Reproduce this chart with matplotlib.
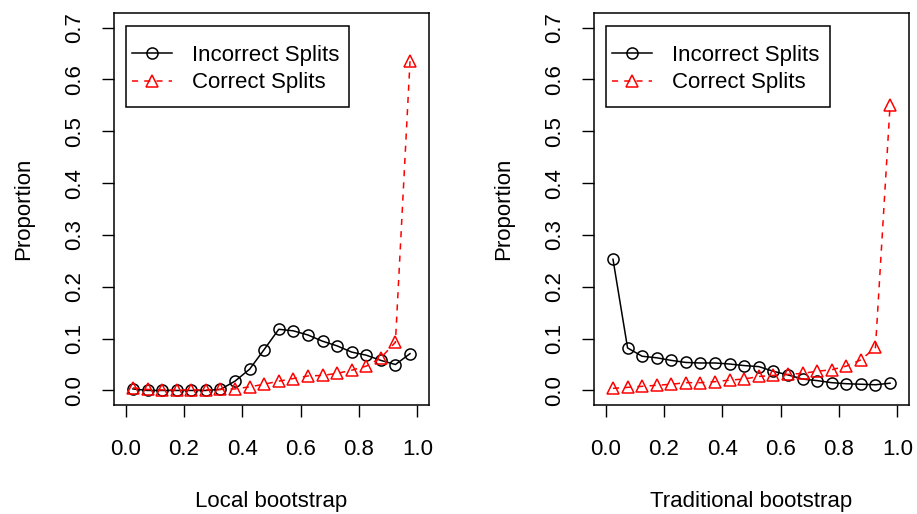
import matplotlib
matplotlib.use("Agg")
import matplotlib.pyplot as plt
from matplotlib.patches import Rectangle
import numpy as np

plt.rcParams['font.family'] = ['Liberation Sans', 'DejaVu Sans']
plt.rcParams['font.size'] = 16

# bin midpoints
x = np.arange(0.025, 1.0, 0.05)

# local bootstrap
local_incorrect = [0.003, 0.0, 0.0, 0.0, 0.0, 0.0, 0.002, 0.018, 0.041, 0.079,
                   0.118, 0.115, 0.107, 0.095, 0.086, 0.074, 0.068, 0.058, 0.050, 0.071]
local_correct = [0.005, 0.002, 0.001, 0.001, 0.001, 0.001, 0.002, 0.003, 0.007, 0.012,
                 0.018, 0.023, 0.028, 0.029, 0.033, 0.039, 0.047, 0.063, 0.093, 0.635]

# traditional bootstrap
trad_incorrect = [0.253, 0.082, 0.066, 0.063, 0.058, 0.054, 0.053, 0.053, 0.051, 0.048,
                  0.046, 0.037, 0.030, 0.022, 0.019, 0.015, 0.013, 0.012, 0.011, 0.014]
trad_correct = [0.004, 0.006, 0.008, 0.010, 0.012, 0.015, 0.015, 0.017, 0.020, 0.022,
                0.027, 0.029, 0.031, 0.033, 0.037, 0.040, 0.047, 0.059, 0.083, 0.550]

xlabels = ["Local bootstrap", "Traditional bootstrap"]

fig = plt.figure(figsize=(9.17, 5.14), dpi=100)
ax1 = fig.add_axes([0.1243, 0.2121, 0.3435, 0.7626])
ax2 = fig.add_axes([0.6478, 0.2121, 0.3435, 0.7626])

panels = [(ax1, local_incorrect, local_correct, xlabels[0]),
          (ax2, trad_incorrect, trad_correct, xlabels[1])]

for ax, inc, cor, lab in panels:
    ax.plot(x, inc, color='black', lw=1.1, marker='o', ms=8, mfc='none',
            mec='black', mew=1.1, label='Incorrect Splits')
    ax.plot(x, cor, color='red', lw=1.1, ls=(0, (4, 4)), marker='^', ms=9,
            mfc='none', mec='red', mew=1.1, label='Correct Splits')
    ax.set_xlim(-0.04, 1.04)
    ax.set_ylim(-0.028, 0.728)
    ax.set_xticks(np.arange(0, 1.01, 0.2))
    ax.set_xticklabels(['0.0', '0.2', '0.4', '0.6', '0.8', '1.0'])
    ax.set_yticks(np.arange(0, 0.71, 0.1))
    ax.set_yticklabels(['%.1f' % v for v in np.arange(0, 0.71, 0.1)],
                       rotation=90, va='center')
    ax.tick_params(length=8.6, width=1, labelsize=16)
    ax.tick_params(axis='x', pad=16)
    ax.tick_params(axis='y', pad=12)
    for s in ax.spines.values():
        s.set_linewidth(1.1)
    ax.set_xlabel(lab, labelpad=22)
    ax.set_ylabel('Proportion', labelpad=22)

    # legend box drawn separately (R style padding)
    ax.add_patch(Rectangle((0.0371, 0.761), 0.7105, 0.2066, transform=ax.transAxes,
                           fill=True, facecolor='white', edgecolor='black',
                           lw=1.1, zorder=4))
    leg = ax.legend(loc='upper left', bbox_to_anchor=(0.0562, 0.918), borderaxespad=0,
                    numpoints=1, handlelength=1.8, handletextpad=0.9,
                    borderpad=0, labelspacing=0.28, frameon=False)
    leg.set_zorder(5)

fig.savefig('out.png', dpi=100)
